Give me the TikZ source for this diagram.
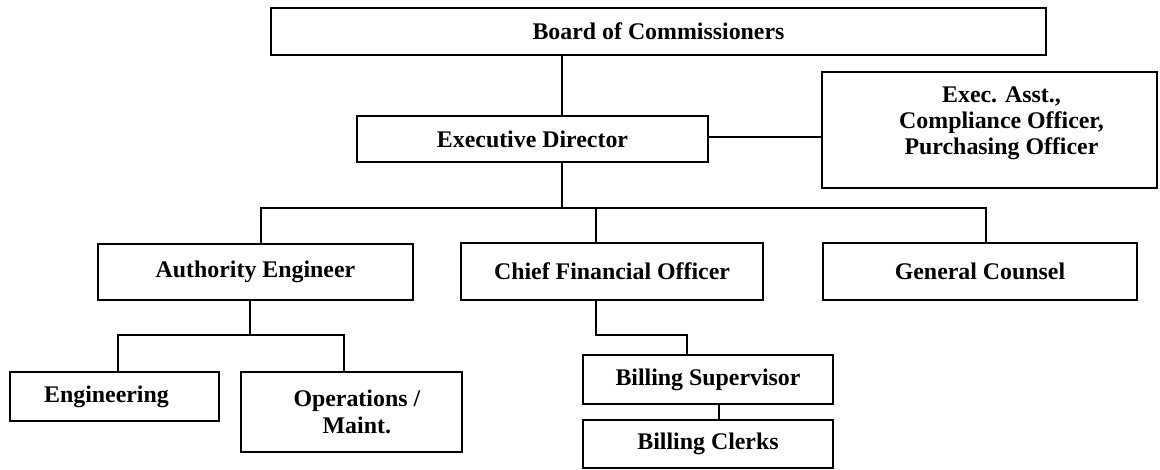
\documentclass[tikz,border=0pt]{standalone}
\usepackage{fontspec}
\setmainfont{Liberation Serif}
\begin{document}
\begin{tikzpicture}[x=0.75pt,y=-0.75pt,
  box/.style={draw=black, line width=1.4pt, fill=white, inner sep=0pt, align=center,
    font=\fontsize{17.9pt}{20pt}\selectfont\bfseries},
  conn/.style={draw=black, line width=1.3pt}]
\useasboundingbox (0,0) rectangle (1160,470);
% boxes
\node[box, minimum width=581.25pt, minimum height=35.25pt] (board) at (658.5,31.5) {Board of Commissioners};
\node[box, minimum width=263.25pt, minimum height=34.5pt] (ed) at (532.5,139) {Executive Director};
\node[box, minimum width=251.25pt, minimum height=87pt,
  label={[align=center, font=\fontsize{17.9pt}{19.5pt}\selectfont\bfseries, xshift=9pt, yshift=5pt]center:Exec. Asst.,\\Compliance Officer,\\Purchasing Officer}] (exec) at (989.5,130) {};
\node[box, minimum width=236.25pt, minimum height=42pt] (ae) at (255.5,272) {Authority Engineer};
\node[box, minimum width=226.5pt, minimum height=42.75pt] (cfo) at (612,271.5) {Chief Financial Officer};
\node[box, minimum width=235.5pt, minimum height=42.75pt] (gc) at (980,271.5) {General Counsel};
\node[box, minimum width=156.75pt, minimum height=36.75pt] (eng) at (114.5,396.5) {\hspace*{-12pt}Engineering};
\node[box, minimum width=165.75pt, minimum height=60pt] (ops) at (351.5,412) {\hspace*{8pt}Operations /\\\hspace*{8pt}Maint.};
\node[box, minimum width=187.5pt, minimum height=36.75pt] (bs) at (708,379.5) {Billing Supervisor};
\node[box, minimum width=187.5pt, minimum height=36pt] (bc) at (708,444) {Billing Clerks};
% helper coordinates
\coordinate (xtop) at (562,0);
\coordinate (xedx) at (0,137);
\coordinate (bus) at (0,208);
\coordinate (xae) at (261,0);
\coordinate (xcfo) at (596,0);
\coordinate (xgc) at (986,0);
\coordinate (xaed) at (250,0);
\coordinate (subbus) at (0,335);
\coordinate (xeng) at (118,0);
\coordinate (xops) at (344,0);
\coordinate (xbs) at (687,0);
\coordinate (xbc) at (719,0);
% connectors
\draw[conn] (board.south -| xtop) -- (ed.north -| xtop);
\draw[conn] (ed.east |- xedx) -- (exec.west |- xedx);
\draw[conn] (ed.south -| xtop) -- (xtop |- bus);
\draw[conn] (ae.north -| xae) -- (xae |- bus) -- (xgc |- bus) -- (gc.north -| xgc);
\draw[conn] (cfo.north -| xcfo) -- (xcfo |- bus);
\draw[conn] (ae.south -| xaed) -- (xaed |- subbus);
\draw[conn] (eng.north -| xeng) -- (xeng |- subbus) -- (xops |- subbus) -- (ops.north -| xops);
\draw[conn] (cfo.south -| xcfo) -- (xcfo |- subbus) -- (xbs |- subbus) -- (bs.north -| xbs);
\draw[conn] (bs.south -| xbc) -- (bc.north -| xbc);
\end{tikzpicture}
\end{document}
